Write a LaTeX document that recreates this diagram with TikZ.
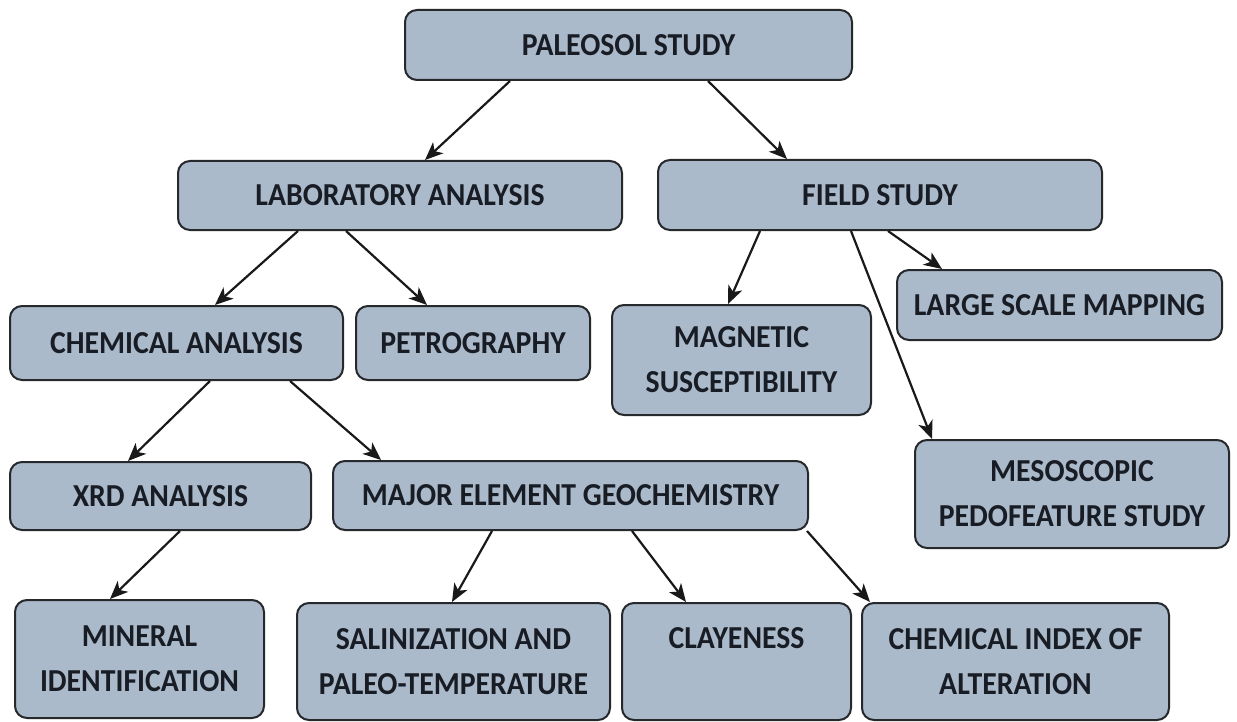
\documentclass[tikz,border=0pt]{standalone}
\usepackage{fontspec}
\setmainfont{Carlito}[FakeStretch=0.93]
\usetikzlibrary{arrows.meta}
\definecolor{boxfill}{RGB}{171,186,202}
\definecolor{boxline}{RGB}{38,40,44}
\definecolor{boxtext}{RGB}{24,28,36}
\tikzset{
  box/.style={draw=boxline, fill=boxfill, line width=1pt, rounded corners=6pt,
    align=center, inner sep=0pt, text=boxtext,
    font=\fontsize{16}{22.5}\selectfont\bfseries},
  arr/.style={draw=black!90, line width=1.1pt,
    -{Stealth[length=9pt,width=7.5pt,inset=2.5pt]}}
}
\newcommand{\bx}[6]{% name, cx, cy, w, h, text
  \node[box, minimum width=#4*0.5pt, minimum height=#5*0.5pt] (#1) at (#2,#3) {#6};}
\begin{document}
\begin{tikzpicture}[x=0.5pt,y=-0.5pt]
\useasboundingbox (0,0) rectangle (1237,722);
\bx{pal}{628.5}{45}{447}{70}{PALEOSOL STUDY}
\bx{lab}{400}{195.5}{444}{69}{LABORATORY ANALYSIS}
\bx{field}{880}{195}{444}{70}{FIELD STUDY}
\bx{chem}{176.5}{343}{333}{74}{CHEMICAL ANALYSIS}
\bx{petro}{473}{343}{234}{74}{PETROGRAPHY}
\bx{mag}{741.5}{360}{259}{110}{MAGNETIC\\SUSCEPTIBILITY}
\bx{large}{1059.5}{305}{325}{70}{LARGE SCALE MAPPING}
\bx{meso}{1072}{494}{314}{108}{MESOSCOPIC\\PEDOFEATURE STUDY}
\bx{xrd}{160.5}{496}{301}{68}{XRD ANALYSIS}
\bx{major}{570.5}{495.5}{475}{69}{MAJOR ELEMENT GEOCHEMISTRY}
\bx{mineral}{139.5}{659}{249}{118}{MINERAL\\IDENTIFICATION}
\bx{salin}{453.5}{661.5}{313}{117}{SALINIZATION AND\\PALEO-TEMPERATURE}
\bx{clay}{736.5}{661.5}{229}{117}{\strut CLAYENESS\\\strut}
\bx{cia}{1015.5}{661.5}{307}{117}{CHEMICAL INDEX OF\\ALTERATION}

\draw[arr] ([xshift=-59.25pt]pal.south) -- ([xshift=12.5pt]lab.north);
\draw[arr] ([xshift=39.75pt]pal.south) -- ([xshift=-46.5pt]field.north);
\draw[arr] ([xshift=-51pt]lab.south) -- ([xshift=19.25pt]chem.north);
\draw[arr] ([xshift=-27pt]lab.south) -- ([xshift=-23pt]petro.north);
\draw[arr] ([xshift=-60pt]field.south) -- ([xshift=-6.75pt]mag.north);
\draw[arr] ([xshift=4pt]field.south) -- ([xshift=-58.75pt]large.north);
\draw[arr] ([xshift=-14.5pt]field.south) -- ([xshift=-70pt]meso.north);
\draw[arr] ([xshift=16.75pt]chem.south) -- ([xshift=-16.25pt]xrd.north);
\draw[arr] ([xshift=56.75pt]chem.south) -- ([xshift=-94.75pt]major.north);
\draw[arr] ([xshift=9.75pt]xrd.south) -- ([xshift=-14.75pt]mineral.north);
\draw[arr] ([xshift=-39.25pt]major.south) -- ([xshift=-0.75pt]salin.north);
\draw[arr] ([xshift=30.75pt]major.south) -- ([xshift=-25.25pt]clay.north);
\draw[arr] ([xshift=-1pt]major.south east) -- ([xshift=-72.75pt]cia.north);
\end{tikzpicture}
\end{document}
